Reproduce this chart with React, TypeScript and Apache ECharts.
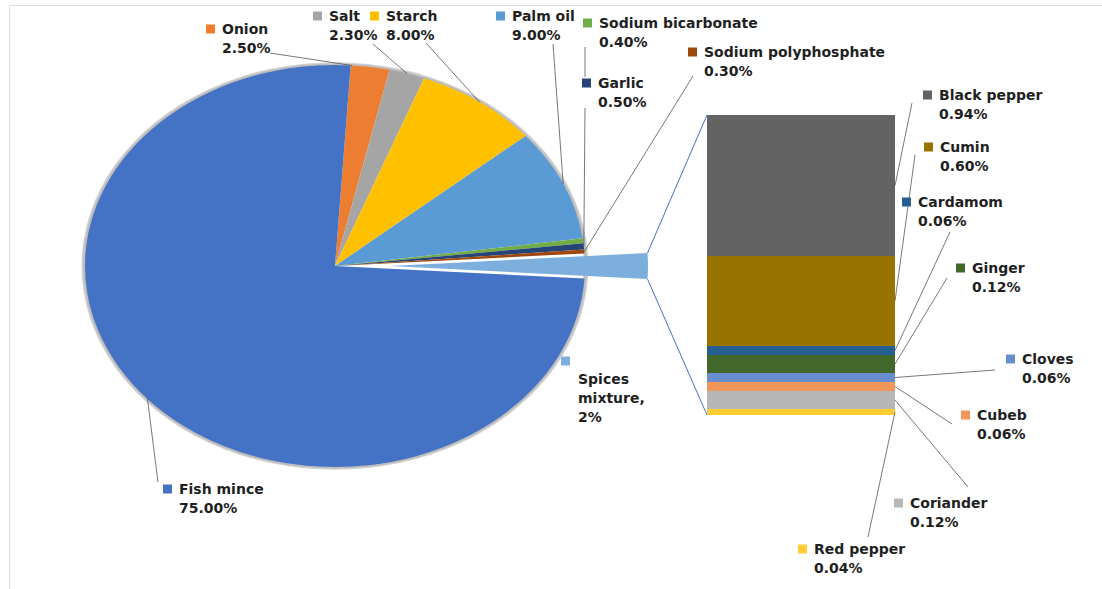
import React, { useEffect, useRef } from "react";
import * as echarts from "echarts";

// ---- Data ----
const pieNames = [
  "Onion",
  "Salt",
  "Starch",
  "Palm oil",
  "Sodium bicarbonate",
  "Garlic",
  "Sodium polyphosphate",
  "Spices mixture",
  "Fish mince",
];
const pieValues = [2.5, 2.3, 8.0, 9.0, 0.4, 0.5, 0.3, 2, 75];
const pieColors = [
  "#ED7D31",
  "#A5A5A5",
  "#FFC000",
  "#5B9BD5",
  "#70AD47",
  "#264478",
  "#9E480E",
  "#7CAFDD",
  "#4472C4",
];

const spiceNames = [
  "Black pepper",
  "Cumin",
  "Cardamom",
  "Ginger",
  "Cloves",
  "Cubeb",
  "Coriander",
  "Red pepper",
];
const spiceValues = [0.94, 0.6, 0.06, 0.12, 0.06, 0.06, 0.12, 0.04];
const spiceColors = [
  "#636363",
  "#997300",
  "#255E91",
  "#43682B",
  "#698ED0",
  "#F1975A",
  "#B7B7B7",
  "#FFCD33",
];

// ---- Layout ----
const W = 1102;
const H = 589;
const CX = 335;
const CY = 266;
const R = 250;
const SY = 0.804; // vertical squash of the pie
const EXPLODE = 55;
const R_SPICE = 258;
const GRID_LEFT = 707;
const GRID_TOP = 115;
const GRID_W = 188;
const GRID_H = 300;
const FONT = { fontFamily: '"DejaVu Sans", Verdana, sans-serif', fontSize: 14, fontWeight: "bold" as const };
const LINE_H = 19;
const TEXT_COLOR = "#1f1f1f";
const LEADER_COLOR = "#555555";

// label placement: marker (mx, my), optional text origin (tx, ty), leader start (lx, ly)
type LabelPos = { mx: number; my: number; tx?: number; ty?: number; lx?: number; ly?: number; ex?: number; ey?: number; frac?: number };
const pieLabelPos: Record<string, LabelPos> = {
  Onion: { mx: 206, my: 29, lx: 270, ly: 53, frac: 0.03 },
  Salt: { mx: 313, my: 16, lx: 373, ly: 44 },
  Starch: { mx: 370, my: 16, lx: 426, ly: 43 },
  "Palm oil": { mx: 496, my: 16, lx: 553, ly: 44 },
  "Sodium bicarbonate": { mx: 583, my: 23, lx: 585, ly: 47, ex: 585, ey: 77 },
  Garlic: { mx: 582, my: 83, lx: 585, ly: 108 },
  "Sodium polyphosphate": { mx: 688, my: 52, lx: 693, ly: 76 },
  "Spices mixture": { mx: 561, my: 361, tx: 578, ty: 379 },
  "Fish mince": { mx: 163, my: 489, lx: 158, ly: 482 },
};
const spiceLabelPos: Record<string, LabelPos> = {
  "Black pepper": { mx: 923, my: 95, lx: 912, ly: 103 },
  Cumin: { mx: 924, my: 147, lx: 915, ly: 155 },
  Cardamom: { mx: 902, my: 202, lx: 950, ly: 232 },
  Ginger: { mx: 956, my: 268, lx: 947, ly: 278 },
  Cloves: { mx: 1006, my: 359, lx: 995, ly: 370 },
  Cubeb: { mx: 961, my: 415, lx: 952, ly: 424 },
  Coriander: { mx: 894, my: 503, lx: 968, ly: 487 },
  "Red pepper": { mx: 798, my: 549, lx: 868, ly: 537 },
};

// ---- Derived geometry ----
const pieTotal = pieValues.reduce((a, b) => a + b, 0);
const spiceIdx = pieNames.indexOf("Spices mixture");
const beforeSpice = pieValues.slice(0, spiceIdx).reduce((a, b) => a + b, 0);
const startRad = (-(beforeSpice + pieValues[spiceIdx] / 2) / pieTotal) * Math.PI * 2;
const angles: number[] = [startRad];
pieValues.forEach((v, i) => angles.push(angles[i] + (v / pieTotal) * Math.PI * 2));
const spiceTotal = spiceValues.reduce((a, b) => a + b, 0);

function labelElements(name: string, color: string, valueText: string, p: LabelPos, anchor: [number, number] | null) {
  const els: any[] = [];
  const tx = p.tx ?? p.mx + 16;
  const ty = p.ty ?? p.my;
  if (anchor && p.lx !== undefined && p.ly !== undefined) {
    const end = p.ex !== undefined ? [p.ex, p.ey as number] : anchor;
    els.push({
      type: "line",
      z: 15,
      silent: true,
      shape: { x1: p.lx, y1: p.ly, x2: end[0], y2: end[1] },
      style: { stroke: LEADER_COLOR, lineWidth: 0.8 },
    });
  }
  els.push({
    type: "rect",
    z: 20,
    silent: true,
    shape: { x: p.mx, y: p.my - 4.5, width: 9, height: 9 },
    style: { fill: color },
  });
  els.push({
    type: "text",
    z: 20,
    silent: true,
    x: tx,
    y: ty - LINE_H / 2,
    style: {
      text: `${name}\n${valueText}`,
      fill: TEXT_COLOR,
      ...FONT,
      lineHeight: LINE_H,
      align: "left",
      verticalAlign: "top",
    },
  });
  return els;
}

function buildOption() {
  const elements: any[] = [];

  // chart-area frame (top and left edges)
  elements.push({
    type: "line",
    silent: true,
    shape: { x1: 9.5, y1: 5.5, x2: W, y2: 5.5 },
    style: { stroke: "#dedede", lineWidth: 1.2 },
  });
  elements.push({
    type: "line",
    silent: true,
    shape: { x1: 9.5, y1: 5.5, x2: 9.5, y2: H },
    style: { stroke: "#dedede", lineWidth: 1.2 },
  });

  // soft grey rim around the pie
  elements.push({
    type: "group",
    x: CX,
    y: CY,
    scaleY: SY,
    z: 0,
    silent: true,
    children: [
      { type: "ring", shape: { cx: 0, cy: 0, r: R + 3.5, r0: R - 1 }, style: { fill: "#d2d2d2" } },
      { type: "ring", shape: { cx: 0, cy: 0, r: R + 2, r0: R - 1 }, style: { fill: "#bdbdbd" } },
    ],
  });

  // connectors from the exploded wedge to the spice bar
  const a0 = angles[spiceIdx];
  const a1 = angles[spiceIdx + 1];
  const mid = (a0 + a1) / 2;
  const wx = CX + EXPLODE * Math.cos(mid);
  const wy = CY + EXPLODE * Math.sin(mid) * SY;
  const topEnd = [wx + R_SPICE * Math.cos(a0), wy + R_SPICE * Math.sin(a0) * SY];
  const botEnd = [wx + R_SPICE * Math.cos(a1), wy + R_SPICE * Math.sin(a1) * SY];
  elements.push({
    type: "line",
    z: 5,
    silent: true,
    shape: { x1: topEnd[0], y1: topEnd[1], x2: GRID_LEFT, y2: GRID_TOP },
    style: { stroke: "#4472C4", lineWidth: 1 },
  });
  elements.push({
    type: "line",
    z: 5,
    silent: true,
    shape: { x1: botEnd[0], y1: botEnd[1], x2: GRID_LEFT, y2: GRID_TOP + GRID_H },
    style: { stroke: "#4472C4", lineWidth: 1 },
  });

  // pie labels
  pieNames.forEach((name, i) => {
    const p = pieLabelPos[name];
    const frac = p.frac ?? 0.5;
    const ang = angles[i] + frac * (angles[i + 1] - angles[i]);
    const anchor: [number, number] = [CX + R * Math.cos(ang), CY + R * Math.sin(ang) * SY];
    const v = pieValues[i];
    if (i === spiceIdx) {
      const txt = `${name.replace(" ", "\n")},\n${Math.round(v)}%`;
      elements.push({
        type: "rect",
        z: 20,
        silent: true,
        shape: { x: p.mx, y: p.my - 4.5, width: 9, height: 9 },
        style: { fill: pieColors[i] },
      });
      elements.push({
        type: "text",
        z: 20,
        silent: true,
        x: p.tx,
        y: (p.ty as number) - LINE_H / 2,
        style: { text: txt, fill: TEXT_COLOR, ...FONT, lineHeight: LINE_H, align: "left", verticalAlign: "top" },
      });
    } else {
      elements.push(...labelElements(name, pieColors[i], `${v.toFixed(2)}%`, p, anchor));
    }
  });

  // spice bar labels
  let above = 0;
  spiceNames.forEach((name, i) => {
    const v = spiceValues[i];
    const yMid = GRID_TOP + ((above + v / 2) / spiceTotal) * GRID_H;
    above += v;
    const anchor: [number, number] = [GRID_LEFT + GRID_W, yMid];
    elements.push(...labelElements(name, spiceColors[i], `${v.toFixed(2)}%`, spiceLabelPos[name], anchor));
  });

  const pieSeries = {
    type: "custom",
    coordinateSystem: "none",
    z: 2,
    silent: true,
    data: pieValues.map((v, i) => ({ value: v, name: pieNames[i] })),
    renderItem: (params: any) => {
      const i = params.dataIndex;
      const s = angles[i];
      const e = angles[i + 1];
      const isSpice = i === spiceIdx;
      const m = (s + e) / 2;
      return {
        type: "group",
        x: CX + (isSpice ? EXPLODE * Math.cos(m) : 0),
        y: CY + (isSpice ? EXPLODE * Math.sin(m) * SY : 0),
        scaleY: SY,
        children: [
          {
            type: "sector",
            shape: { cx: 0, cy: 0, r0: 0, r: isSpice ? R_SPICE : R, startAngle: s, endAngle: e, clockwise: true },
            style: { fill: pieColors[i] },
          },
        ],
      };
    },
  };

  // stacked spice bar, bottom segment first
  const barSeries = spiceNames
    .map((name, i) => ({
      type: "bar",
      name,
      stack: "spices",
      barWidth: "100%",
      silent: true,
      data: [spiceValues[i]],
      itemStyle: { color: spiceColors[i] },
    }))
    .reverse();

  return {
    animation: false,
    backgroundColor: "#ffffff",
    grid: { left: GRID_LEFT, top: GRID_TOP, width: GRID_W, height: GRID_H },
    xAxis: { type: "category", data: ["Spices mixture"], show: false },
    yAxis: { type: "value", min: 0, max: spiceTotal, show: false },
    series: [pieSeries, ...barSeries],
    graphic: { elements },
  };
}

export default function App() {
  const ref = useRef<HTMLDivElement>(null);
  useEffect(() => {
    if (!ref.current) return;
    const chart = echarts.init(ref.current, null, { renderer: "svg" });
    chart.setOption(buildOption() as any);
    return () => chart.dispose();
  }, []);
  return <div ref={ref} style={{ position: "absolute", left: 0, top: 0, width: W, height: H }} />;
}
